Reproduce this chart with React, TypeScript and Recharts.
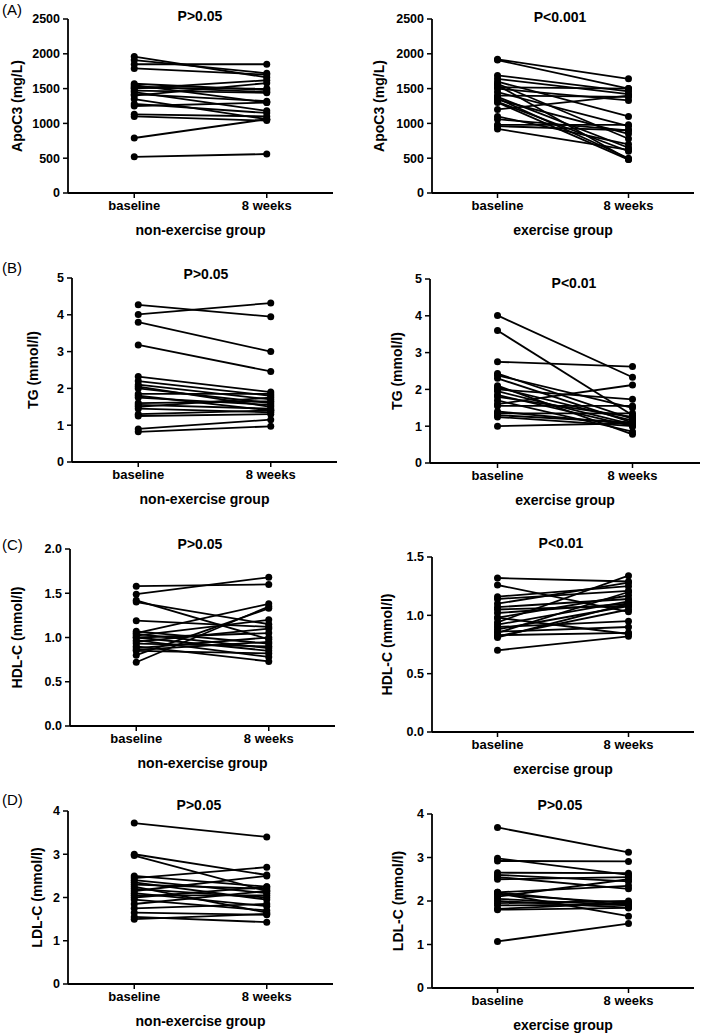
import React from 'react';
import { LineChart, Line, XAxis, YAxis } from 'recharts';

const timepoints = ['baseline', '8 weeks'];

const apoTicks = [0, 500, 1000, 1500, 2000, 2500];
const tgTicks = [0, 1, 2, 3, 4, 5];
const hdlTicksNon = [0, 0.5, 1.0, 1.5, 2.0];
const hdlTicksEx = [0, 0.5, 1.0, 1.5];
const ldlTicks = [0, 1, 2, 3, 4];

// ApoC3 (mg/L)
const apoNonBase = [1960, 1910, 1850, 1790, 1570, 1550, 1530, 1510, 1500, 1470, 1450, 1420, 1400, 1350, 1280, 1250, 1130, 1100, 790, 520];
const apoNonWk8 = [1660, 1720, 1850, 1700, 1480, 1300, 1450, 1500, 1620, 1440, 1180, 1320, 1580, 1060, 1150, 1300, 1100, 1040, 1060, 560];
const apoExBase = [1920, 1910, 1690, 1640, 1600, 1570, 1550, 1520, 1500, 1450, 1400, 1380, 1360, 1340, 1310, 1300, 1200, 1100, 1060, 980, 960, 920];
const apoExWk8 = [1640, 1500, 1460, 1420, 1100, 780, 480, 1500, 1330, 960, 1380, 650, 500, 850, 600, 480, 1400, 700, 900, 980, 900, 620];

// TG (mmol/l)
const tgNonBase = [4.27, 4.01, 3.8, 3.18, 2.32, 2.2, 2.1, 2.05, 2.0, 1.85, 1.8, 1.75, 1.6, 1.55, 1.5, 1.45, 1.3, 1.25, 0.9, 0.82];
const tgNonWk8 = [3.95, 4.32, 3.0, 2.46, 1.9, 1.8, 1.7, 1.5, 1.6, 1.85, 1.4, 1.55, 1.65, 1.45, 1.75, 1.35, 1.4, 1.3, 1.15, 0.97];
const tgExBase = [4.01, 3.6, 2.75, 2.43, 2.38, 2.3, 2.1, 2.05, 2.0, 1.95, 1.85, 1.8, 1.7, 1.6, 1.55, 1.4, 1.35, 1.3, 1.25, 1.0];
const tgExWk8 = [2.33, 1.3, 2.62, 1.2, 1.5, 1.1, 0.78, 1.15, 1.73, 1.05, 1.0, 1.25, 0.85, 2.12, 1.55, 1.05, 1.35, 1.1, 1.0, 1.08];

// HDL-C (mmol/l)
const hdlNonBase = [1.58, 1.49, 1.42, 1.4, 1.19, 1.07, 1.05, 1.04, 1.02, 1.0, 1.0, 0.97, 0.95, 0.93, 0.9, 0.88, 0.86, 0.85, 0.8, 0.72];
const hdlNonWk8 = [1.6, 1.68, 0.98, 1.15, 1.12, 0.93, 1.38, 0.88, 1.2, 0.85, 1.05, 0.78, 1.1, 0.9, 0.73, 1.0, 0.95, 0.82, 1.33, 1.35];
const hdlExBase = [1.32, 1.26, 1.16, 1.14, 1.1, 1.07, 1.05, 1.02, 0.98, 0.98, 0.94, 0.92, 0.9, 0.88, 0.86, 0.85, 0.83, 0.82, 0.81, 0.7];
const hdlExWk8 = [1.29, 1.03, 1.25, 1.21, 1.28, 1.14, 1.08, 1.1, 1.17, 0.84, 1.34, 1.12, 0.95, 1.08, 0.9, 1.2, 0.85, 1.05, 1.1, 0.82];

// LDL-C (mmol/l)
const ldlNonBase = [3.72, 3.0, 2.97, 2.5, 2.45, 2.4, 2.35, 2.3, 2.25, 2.2, 2.15, 2.1, 2.05, 2.0, 1.95, 1.85, 1.75, 1.65, 1.55, 1.5];
const ldlNonWk8 = [3.4, 2.52, 2.15, 2.25, 2.7, 2.1, 1.95, 2.2, 1.65, 2.0, 2.5, 1.8, 2.05, 2.25, 1.7, 2.15, 1.85, 1.6, 1.43, 1.62];
const ldlExBase = [3.69, 2.98, 2.92, 2.65, 2.6, 2.55, 2.5, 2.2, 2.2, 2.18, 2.15, 2.1, 2.05, 2.0, 1.95, 1.9, 1.82, 1.8, 1.07];
const ldlExWk8 = [3.12, 2.6, 2.91, 2.64, 2.45, 2.28, 2.55, 2.35, 1.9, 1.65, 1.95, 2.5, 1.9, 1.85, 2.0, 1.92, 1.95, 1.84, 1.48];

const FONT = '"Liberation Sans", Arial, Helvetica, sans-serif';

type Cfg = {
  x0: number; x1: number; y0: number; y1: number; yw: number; dist: number;
  base: number[]; wk8: number[]; ticks: number[]; dec: number;
  ylabel: string; group: string; title: string; tx: number; ty: number;
};

const panels: Cfg[] = [
  { x0: 68, x1: 333, y0: 19, y1: 193, yw: 66, dist: 51, base: apoNonBase, wk8: apoNonWk8, ticks: apoTicks, dec: 0, ylabel: 'ApoC3 (mg/L)', group: 'non-exercise group', title: 'P>0.05', tx: 200, ty: 16 },
  { x0: 432, x1: 694, y0: 19, y1: 193, yw: 70, dist: 53, base: apoExBase, wk8: apoExWk8, ticks: apoTicks, dec: 0, ylabel: 'ApoC3 (mg/L)', group: 'exercise group', title: 'P<0.001', tx: 560, ty: 17 },
  { x0: 72, x1: 337, y0: 278, y1: 462, yw: 66, dist: 39, base: tgNonBase, wk8: tgNonWk8, ticks: tgTicks, dec: 0, ylabel: 'TG (mmol/l)', group: 'non-exercise group', title: 'P>0.05', tx: 206, ty: 274 },
  { x0: 430, x1: 700, y0: 279, y1: 463, yw: 70, dist: 33, base: tgExBase, wk8: tgExWk8, ticks: tgTicks, dec: 0, ylabel: 'TG (mmol/l)', group: 'exercise group', title: 'P<0.01', tx: 574, ty: 283 },
  { x0: 70, x1: 335, y0: 549, y1: 726, yw: 66, dist: 53, base: hdlNonBase, wk8: hdlNonWk8, ticks: hdlTicksNon, dec: 1, ylabel: 'HDL-C (mmol/l)', group: 'non-exercise group', title: 'P>0.05', tx: 200, ty: 544 },
  { x0: 432, x1: 694, y0: 557, y1: 732, yw: 70, dist: 45, base: hdlExBase, wk8: hdlExWk8, ticks: hdlTicksEx, dec: 1, ylabel: 'HDL-C (mmol/l)', group: 'exercise group', title: 'P<0.01', tx: 561, ty: 543 },
  { x0: 68, x1: 333, y0: 811, y1: 984, yw: 66, dist: 31, base: ldlNonBase, wk8: ldlNonWk8, ticks: ldlTicks, dec: 0, ylabel: 'LDL-C (mmol/l)', group: 'non-exercise group', title: 'P>0.05', tx: 199, ty: 805 },
  { x0: 432, x1: 694, y0: 814, y1: 988, yw: 70, dist: 34, base: ldlExBase, wk8: ldlExWk8, ticks: ldlTicks, dec: 0, ylabel: 'LDL-C (mmol/l)', group: 'exercise group', title: 'P>0.05', tx: 560, ty: 805 },
];

const letters = [
  { t: '(A)', x: 2, y: 10 },
  { t: '(B)', x: 2, y: 268 },
  { t: '(C)', x: 2, y: 545 },
  { t: '(D)', x: 2, y: 800 },
];

function RotLabel(props: any) {
  const { px, py, txt } = props;
  return (
    <text x={px} y={py} transform={`rotate(-90 ${px} ${py})`} textAnchor="middle" dominantBaseline="central"
      fontFamily={FONT} fontWeight="bold" fontSize={14} fill="#000">{txt}</text>
  );
}

function GroupLabel(props: any) {
  const { px, py, txt } = props;
  return (
    <text x={px} y={py} textAnchor="middle" dominantBaseline="central"
      fontFamily={FONT} fontWeight="bold" fontSize={14} fill="#000">{txt}</text>
  );
}

const TOP = 12;
const XH = 45;

function Panel({ cfg }: { cfg: Cfg }) {
  const left = cfg.x0 - cfg.yw;
  const top = cfg.y0 - TOP;
  const plotH = cfg.y1 - cfg.y0;
  const plotW = cfg.x1 - cfg.x0;
  const width = cfg.x1 - left + 4;
  const height = plotH + TOP + XH;
  const data = timepoints.map((t, i) => {
    const row: any = { x: i, name: t };
    cfg.base.forEach((v, k) => {
      row['s' + k] = i === 0 ? v : cfg.wk8[k];
    });
    return row;
  });
  const ymax = cfg.ticks[cfg.ticks.length - 1];
  return (
    <div style={{ position: 'absolute', left, top, width, height }}>
      <LineChart width={width} height={height} data={data} margin={{ top: TOP, right: 4, left: 0, bottom: 0 }}>
        <XAxis type="number" dataKey="x" domain={[-0.5, 1.5]} ticks={[0, 1]} interval={0}
          tickFormatter={(v: number) => timepoints[v]} height={XH}
          axisLine={{ stroke: '#000', strokeWidth: 1.8 }} tickLine={{ stroke: '#000', strokeWidth: 1.5 }}
          tickSize={5} tickMargin={3}
          tick={{ fill: '#000', fontSize: 13, fontWeight: 'bold', fontFamily: FONT }}
          label={<GroupLabel px={cfg.yw + plotW / 2} py={TOP + plotH + 37} txt={cfg.group} />} />
        <YAxis type="number" domain={[0, ymax]} ticks={cfg.ticks} interval={0} width={cfg.yw}
          tickFormatter={(v: number) => v.toFixed(cfg.dec)}
          axisLine={{ stroke: '#000', strokeWidth: 1.8 }} tickLine={{ stroke: '#000', strokeWidth: 1.5 }}
          tickSize={5} tickMargin={3}
          tick={{ fill: '#000', fontSize: 12.5, fontWeight: 'bold', fontFamily: FONT }}
          label={<RotLabel px={cfg.yw - cfg.dist} py={TOP + plotH / 2} txt={cfg.ylabel} />} />
        {cfg.base.map((_, k) => (
          <Line key={k} type="linear" dataKey={'s' + k} stroke="#000" strokeWidth={1.8}
            dot={{ r: 3.5, fill: '#000', stroke: '#000', strokeWidth: 0 }} activeDot={false}
            isAnimationActive={false} />
        ))}
      </LineChart>
    </div>
  );
}

export default function App() {
  return (
    <div style={{ position: 'absolute', left: 0, top: 0, width: 709, height: 1034, background: '#fff', fontFamily: FONT }}>
      {panels.map((p, i) => <Panel key={i} cfg={p} />)}
      {panels.map((p, i) => (
        <div key={'t' + i} style={{ position: 'absolute', left: p.tx - 60, top: p.ty - 9, width: 120, height: 18, lineHeight: '18px', textAlign: 'center', fontWeight: 'bold', fontSize: 14, color: '#000' }}>{p.title}</div>
      ))}
      {letters.map((l, i) => (
        <div key={'l' + i} style={{ position: 'absolute', left: l.x, top: l.y - 9, height: 18, lineHeight: '18px', fontSize: 15, color: '#000' }}>{l.t}</div>
      ))}
    </div>
  );
}
